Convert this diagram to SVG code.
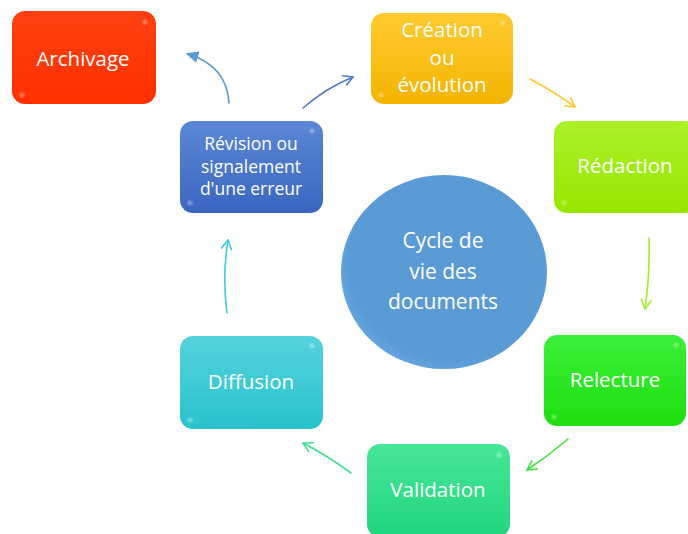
<svg xmlns="http://www.w3.org/2000/svg" width="688" height="534" viewBox="0 0 688 534">
<style>
.lbl{font-family:"Open Sans","Noto Sans","Liberation Sans",sans-serif;fill:#ffffff;text-anchor:middle;font-size:20.5px}
.sm{font-size:17.5px}
.big{font-size:21px}
.arr{fill:none;stroke-width:1.6;stroke-linecap:round}
</style>
<defs>
<linearGradient id="gRed" x1="0" y1="0" x2="0" y2="1"><stop offset="0" stop-color="#ff4010"/><stop offset="1" stop-color="#ff3000"/></linearGradient>
<linearGradient id="gBlue" x1="0" y1="0" x2="0" y2="1"><stop offset="0" stop-color="#5b87d6"/><stop offset="1" stop-color="#3a66c0"/></linearGradient>
<linearGradient id="gGold" x1="0" y1="0" x2="0" y2="1"><stop offset="0" stop-color="#ffcb30"/><stop offset="1" stop-color="#f2b400"/></linearGradient>
<linearGradient id="gLime" x1="0" y1="0" x2="0" y2="1"><stop offset="0" stop-color="#abf128"/><stop offset="1" stop-color="#98e600"/></linearGradient>
<linearGradient id="gGreen" x1="0" y1="0" x2="0" y2="1"><stop offset="0" stop-color="#3cef3a"/><stop offset="1" stop-color="#1ddf0e"/></linearGradient>
<linearGradient id="gMint" x1="0" y1="0" x2="0" y2="1"><stop offset="0" stop-color="#48e698"/><stop offset="1" stop-color="#1fd67e"/></linearGradient>
<linearGradient id="gCyan" x1="0" y1="0" x2="0" y2="1"><stop offset="0" stop-color="#55d3dc"/><stop offset="1" stop-color="#28c3ce"/></linearGradient>
<radialGradient id="gCirc" cx="0.55" cy="0.45" r="0.6"><stop offset="0" stop-color="#5b9bd5"/><stop offset="0.85" stop-color="#5b9bd5"/><stop offset="1" stop-color="#6aaae2"/></radialGradient>
<radialGradient id="dot"><stop offset="0" stop-color="#ffffff" stop-opacity="0.4"/><stop offset="1" stop-color="#ffffff" stop-opacity="0"/></radialGradient>
<marker id="chev" viewBox="0 0 12 12" refX="10" refY="6" markerWidth="12" markerHeight="12" orient="auto" markerUnits="userSpaceOnUse"><path d="M1,1 L10,6 L1,11" fill="none" stroke="context-stroke" stroke-width="1.6" stroke-linecap="round" stroke-linejoin="round"/></marker>
<marker id="triB" viewBox="0 0 10 10" refX="8" refY="5" markerWidth="13" markerHeight="13" orient="auto" markerUnits="userSpaceOnUse"><path d="M0,0.5 L10,5 L0,9.5 z" fill="#5b9bd5"/></marker>
</defs>
<rect width="688" height="534" fill="#ffffff"/>
<g id="connectors">
<path class="arr" stroke="#5b9bd5" d="M229,103 Q227,66 188,54" marker-end="url(#triB)"/>
<path class="arr" stroke="#4a78c8" d="M303,108 Q326,88 353,77" marker-end="url(#chev)"/>
<path class="arr" stroke="#ffc735" d="M530,79 Q553,91 575,107" marker-end="url(#chev)"/>
<path class="arr" stroke="#a2ec2a" d="M649,238 Q650,275 645,309" marker-end="url(#chev)"/>
<path class="arr" stroke="#3ee23a" d="M568,439 Q548,456 527,470" marker-end="url(#chev)"/>
<path class="arr" stroke="#3ee08e" d="M351,473 Q328,456 303,443" marker-end="url(#chev)"/>
<path class="arr" stroke="#42ccd8" d="M227,313 Q222,276 228,240" marker-end="url(#chev)"/>
</g>
<g id="center">
<ellipse cx="444" cy="272" rx="103" ry="97" fill="url(#gCirc)"/>
<text class="lbl big" x="443" y="248">Cycle de</text>
<text class="lbl big" x="443" y="279">vie des</text>
<text class="lbl big" x="443" y="309">documents</text>
</g>
<g id="archivage">
<rect x="12" y="11" width="144" height="93" rx="13" fill="url(#gRed)"/>
<circle cx="145" cy="22" r="4" fill="url(#dot)"/><circle cx="22" cy="95" r="4" fill="url(#dot)"/>
<text class="lbl" x="83" y="66">Archivage</text>
</g>
<g id="revision">
<rect x="180" y="121" width="143" height="92" rx="13" fill="url(#gBlue)"/>
<circle cx="312" cy="131" r="4" fill="url(#dot)"/><circle cx="190" cy="203" r="4" fill="url(#dot)"/>
<text class="lbl sm" x="251" y="150">Révision ou</text>
<text class="lbl sm" x="251" y="173">signalement</text>
<text class="lbl sm" x="251" y="195">d'une erreur</text>
</g>
<g id="creation">
<rect x="371" y="13" width="142" height="91" rx="13" fill="url(#gGold)"/>
<circle cx="503" cy="23" r="4" fill="url(#dot)"/><circle cx="381" cy="95" r="4" fill="url(#dot)"/>
<text class="lbl" x="442" y="37">Création</text>
<text class="lbl" x="442" y="65">ou</text>
<text class="lbl" x="442" y="92">évolution</text>
</g>
<g id="redaction">
<rect x="554" y="121" width="143" height="92" rx="13" fill="url(#gLime)"/>
<circle cx="564" cy="203" r="4" fill="url(#dot)"/>
<text class="lbl" x="625" y="173">Rédaction</text>
</g>
<g id="relecture">
<rect x="544" y="335" width="142" height="91" rx="13" fill="url(#gGreen)"/>
<circle cx="676" cy="345" r="4" fill="url(#dot)"/><circle cx="554" cy="417" r="4" fill="url(#dot)"/>
<text class="lbl" x="615" y="387">Relecture</text>
</g>
<g id="validation">
<rect x="367" y="444" width="143" height="93" rx="13" fill="url(#gMint)"/>
<circle cx="499" cy="455" r="4" fill="url(#dot)"/>
<text class="lbl" x="438" y="497">Validation</text>
</g>
<g id="diffusion">
<rect x="180" y="336" width="143" height="93" rx="13" fill="url(#gCyan)"/>
<circle cx="312" cy="346" r="4" fill="url(#dot)"/><circle cx="190" cy="420" r="4" fill="url(#dot)"/>
<text class="lbl" x="251" y="389">Diffusion</text>
</g>
</svg>
